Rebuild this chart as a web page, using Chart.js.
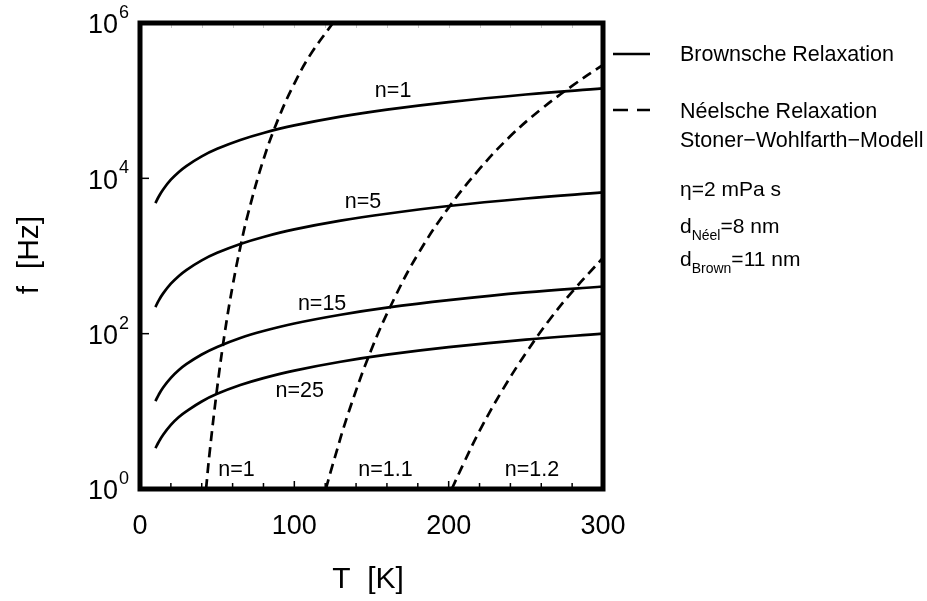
<!DOCTYPE html>
<html>
<head>
<meta charset="utf-8">
<script src="https://cdn.jsdelivr.net/npm/chart.js@4.4.0/dist/chart.umd.min.js"></script>
<style>
  html, body { margin: 0; padding: 0; background: #fff; }
  #wrap { width: 927px; height: 601px; }
</style>
</head>
<body>
<div id="wrap"><canvas id="grafico" width="927" height="601"></canvas></div>
<script>
// Brownsche Relaxation: Temperaturen und Frequenzen (Hz) je Clustergröße n
var brownT   = [10, 12, 15, 20, 25, 30, 40, 50, 65, 80, 100, 130, 160, 200, 250, 300];
var brownN1  = [4800, 5750, 7200, 9600, 12000, 14400, 19200, 24000, 31200, 38400, 48000, 62400, 76800, 96000, 120000, 144000];
var brownN5  = [220, 265, 330, 440, 550, 660, 880, 1100, 1430, 1760, 2200, 2850, 3500, 4400, 5500, 6600];
var brownN15 = [13.5, 16.2, 20.3, 27, 33.8, 40.5, 54, 67.5, 88, 108, 135, 175, 216, 270, 340, 405];
var brownN25 = [3.35, 4.0, 5.0, 6.7, 8.4, 10, 13.4, 16.8, 21.8, 26.8, 33.5, 43.5, 53.6, 67, 84, 100];

// Néelsche Relaxation (Stoner-Wohlfarth)
var neelT1   = [42.8, 45, 50, 55, 60, 65, 70, 80, 90, 100, 110, 125];
var neelN1   = [1, 2.8, 20, 105, 410, 1300, 3500, 17500, 61000, 166000, 380000, 1000000];
var neelT11  = [120.4, 125, 135, 150, 165, 180, 200, 220, 240, 260, 280, 300];
var neelN11  = [1, 2.1, 9.5, 63, 290, 1050, 4200, 13200, 35000, 78000, 155000, 290000];
var neelT12  = [202, 210, 220, 235, 250, 265, 280, 300];
var neelN12  = [1, 2.2, 5.6, 19, 56, 148, 345, 950];

// Achsen
var xTicks = [0, 100, 200, 300];
var yExp   = [0, 2, 4, 6];

function puntos(xs, ys) {
  return xs.map(function(x, i) { return { x: x, y: ys[i] }; });
}

function serie(label, xs, ys, dash) {
  return {
    label: label,
    data: puntos(xs, ys),
    borderColor: "#000",
    borderWidth: 2.7,
    borderDash: dash || [],
    pointRadius: 0,
    fill: false,
    tension: 0.4,
  };
}

var FONT = "'Liberation Sans', Arial, sans-serif";

// Rahmen, Achsenbeschriftung, Legende und Kurvennamen
var rahmenPlugin = {
  id: "rahmen",
  afterDraw: function(chart) {
    var ctx = chart.ctx;
    var a = chart.chartArea;
    var sx = chart.scales.x;
    var sy = chart.scales.y;
    ctx.save();

    // Teilstriche unten und oben
    ctx.strokeStyle = "#000";
    ctx.lineWidth = 1.5;
    for (var t = 20; t < 300; t += 20) {
      var px = sx.getPixelForValue(t);
      var len = (t % 100 === 0) ? 8 : 6;
      ctx.beginPath();
      ctx.moveTo(px, a.bottom);
      ctx.lineTo(px, a.bottom - len);
      ctx.stroke();
    }
    ctx.strokeStyle = "#c8c8c8";
    ctx.lineWidth = 1;
    for (var t2 = 20; t2 < 300; t2 += 20) {
      var px2 = Math.round(sx.getPixelForValue(t2)) + 0.5;
      ctx.beginPath();
      ctx.moveTo(px2, a.top);
      ctx.lineTo(px2, a.top + 5);
      ctx.stroke();
    }
    ctx.strokeStyle = "#000";
    ctx.lineWidth = 1.5;
    [2, 4].forEach(function(e) {
      var py = sy.getPixelForValue(Math.pow(10, e));
      ctx.beginPath();
      ctx.moveTo(a.left, py);
      ctx.lineTo(a.left + 9, py);
      ctx.stroke();
    });

    // Rahmen
    ctx.lineWidth = 5;
    ctx.strokeRect(a.left, a.top, a.right - a.left, a.bottom - a.top);

    // Beschriftung der x-Achse
    ctx.fillStyle = "#000";
    ctx.font = "27px " + FONT;
    ctx.textAlign = "center";
    ctx.textBaseline = "middle";
    xTicks.forEach(function(v) {
      ctx.fillText(String(v), sx.getPixelForValue(v), 527);
    });

    // Beschriftung der y-Achse (10^n)
    yExp.forEach(function(e) {
      var py = sy.getPixelForValue(Math.pow(10, e));
      ctx.font = "27px " + FONT;
      ctx.textAlign = "right";
      ctx.textBaseline = "middle";
      ctx.fillText("10", 118, py + 3);
      ctx.font = "18px " + FONT;
      ctx.textAlign = "left";
      ctx.fillText(String(e), 119, py - 10);
    });

    // Achsentitel
    ctx.font = "30px " + FONT;
    ctx.textAlign = "center";
    ctx.textBaseline = "middle";
    ctx.fillText("T  [K]", 368, 580);
    ctx.save();
    ctx.translate(30, 255);
    ctx.rotate(-Math.PI / 2);
    ctx.fillText("f  [Hz]", 0, 0);
    ctx.restore();

    // Legende
    ctx.lineWidth = 2.7;
    ctx.beginPath();
    ctx.moveTo(613, 54);
    ctx.lineTo(650, 54);
    ctx.stroke();
    ctx.beginPath();
    ctx.moveTo(613, 110);
    ctx.lineTo(628, 110);
    ctx.moveTo(637, 110);
    ctx.lineTo(650, 110);
    ctx.stroke();

    ctx.font = "21.5px " + FONT;
    ctx.textAlign = "left";
    ctx.textBaseline = "alphabetic";
    ctx.fillText("Brownsche Relaxation", 680, 61);
    ctx.fillText("Néelsche Relaxation", 680, 118);
    ctx.fillText("Stoner\u2212Wohlfarth\u2212Modell", 680, 147);

    ctx.font = "21px " + FONT;
    ctx.fillText("\u03b7=2 mPa s", 680, 196);
    function mitIndex(base, sub, rest, x, y) {
      ctx.font = "21px " + FONT;
      ctx.fillText(base, x, y);
      var w = ctx.measureText(base).width;
      ctx.font = "14px " + FONT;
      ctx.fillText(sub, x + w, y + 7);
      var w2 = ctx.measureText(sub).width;
      ctx.font = "21px " + FONT;
      ctx.fillText(rest, x + w + w2, y);
    }
    mitIndex("d", "Néel", "=8 nm", 680, 233);
    mitIndex("d", "Brown", "=11 nm", 680, 266);

    // Kurvennamen
    ctx.font = "21.5px " + FONT;
    ctx.textAlign = "center";
    ctx.textBaseline = "middle";
    var namen = [
      ["n=1", 164, 134000],
      ["n=5", 144.5, 4900],
      ["n=15", 118, 240],
      ["n=25", 103.5, 18],
      ["n=1", 62.5, 1.75],
      ["n=1.1", 159, 1.75],
      ["n=1.2", 254, 1.75],
    ];
    namen.forEach(function(n) {
      ctx.fillText(n[0], sx.getPixelForValue(n[1]), sy.getPixelForValue(n[2]));
    });

    ctx.restore();
  },
};

new Chart(document.getElementById("grafico"), {
  type: "line",
  data: {
    datasets: [
      serie("n=1", brownT, brownN1),
      serie("n=5", brownT, brownN5),
      serie("n=15", brownT, brownN15),
      serie("n=25", brownT, brownN25),
      serie("Néel n=1", neelT1, neelN1, [10, 6]),
      serie("Néel n=1.1", neelT11, neelN11, [10, 6]),
      serie("Néel n=1.2", neelT12, neelN12, [10, 6]),
    ],
  },
  options: {
    responsive: false,
    animation: false,
    devicePixelRatio: 1,
    layout: { padding: { left: 140, top: 23, right: 324, bottom: 112 } },
    plugins: { legend: { display: false }, tooltip: { enabled: false } },
    scales: {
      x: { type: "linear", min: 0, max: 300, display: false },
      y: { type: "logarithmic", min: 1, max: 1000000, display: false },
    },
  },
  plugins: [rahmenPlugin],
});
</script>
</body>
</html>
